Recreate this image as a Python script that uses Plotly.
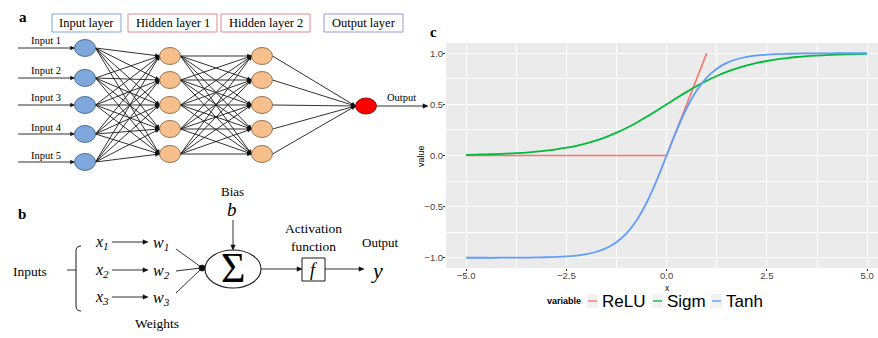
import plotly.graph_objects as go

# ---------------- data (panel c) ----------------
x_relu = [-5.0, 0.0, 1.0]
y_relu = [0.0, 0.0, 1.0]

x_grid = [-5.0, -4.75, -4.5, -4.25, -4.0, -3.75, -3.5, -3.25, -3.0, -2.75, -2.5,
          -2.25, -2.0, -1.75, -1.5, -1.25, -1.0, -0.75, -0.5, -0.25, 0.0,
          0.25, 0.5, 0.75, 1.0, 1.25, 1.5, 1.75, 2.0, 2.25, 2.5,
          2.75, 3.0, 3.25, 3.5, 3.75, 4.0, 4.25, 4.5, 4.75, 5.0]
y_sigm = [0.007, 0.009, 0.011, 0.014, 0.018, 0.023, 0.029, 0.037, 0.047, 0.060, 0.076,
          0.095, 0.119, 0.148, 0.182, 0.223, 0.269, 0.321, 0.378, 0.438, 0.500,
          0.562, 0.622, 0.679, 0.731, 0.777, 0.818, 0.852, 0.881, 0.905, 0.924,
          0.940, 0.953, 0.963, 0.971, 0.977, 0.982, 0.986, 0.989, 0.991, 0.993]
y_tanh = [-1.000, -1.000, -1.000, -1.000, -0.999, -0.999, -0.998, -0.997, -0.995, -0.992, -0.987,
          -0.978, -0.964, -0.941, -0.905, -0.848, -0.762, -0.635, -0.462, -0.245, 0.000,
          0.245, 0.462, 0.635, 0.762, 0.848, 0.905, 0.941, 0.964, 0.978, 0.987,
          0.992, 0.995, 0.997, 0.998, 0.999, 0.999, 1.000, 1.000, 1.000, 1.000]

series_names = ["ReLU", "Sigm", "Tanh"]
series_colors = ["#F8766D", "#00BA38", "#619CFF"]

x_tickvals = [-5.0, -2.5, 0.0, 2.5, 5.0]
x_ticktext = ["\u22125.0", "\u22122.5", "0.0", "2.5", "5.0"]
y_tickvals = [-1.0, -0.5, 0.0, 0.5, 1.0]
y_ticktext = ["\u22121.0", "\u22120.5", "0.0", "0.5", "1.0"]

# ---------------- diagram labels ----------------
layer_titles = ["Input layer", "Hidden layer 1", "Hidden layer 2", "Output layer"]
input_labels = ["Input 1", "Input 2", "Input 3", "Input 4", "Input 5"]

W, H = 878, 338
SERIF = "Liberation Serif"
SANS = "Liberation Sans"


def px(x):
    return x / W


def py(y):
    return 1 - y / H


shapes = []
annos = []


def line(x0, y0, x1, y1, color="#1A1A1A", width=0.9):
    shapes.append(dict(type="line", xref="paper", yref="paper",
                       x0=px(x0), y0=py(y0), x1=px(x1), y1=py(y1),
                       line=dict(color=color, width=width)))


def head(x0, y0, x1, y1, size=5.0, half=2.2, color="#111111"):
    dx, dy = x1 - x0, y1 - y0
    L = (dx * dx + dy * dy) ** 0.5
    ux, uy = dx / L, dy / L
    bx, by = x1 - ux * size, y1 - uy * size
    pxv, pyv = -uy * half, ux * half
    pts = [(x1, y1), (bx + pxv, by + pyv), (bx - pxv, by - pyv)]
    path = "M " + " L ".join(f"{px(a):.5f},{py(b):.5f}" for a, b in pts) + " Z"
    shapes.append(dict(type="path", xref="paper", yref="paper", path=path,
                       fillcolor=color, line=dict(color=color, width=0.5)))


def arrow(x0, y0, x1, y1, width=0.9, size=5.0, half=2.2):
    line(x0, y0, x1 - (x1 - x0) * 0.02, y1 - (y1 - y0) * 0.02, width=width)
    head(x0, y0, x1, y1, size=size, half=half)


def ellipse(cx, cy, rx, ry, fill, border, width=0.8):
    shapes.append(dict(type="circle", xref="paper", yref="paper",
                       x0=px(cx - rx), x1=px(cx + rx), y0=py(cy + ry), y1=py(cy - ry),
                       fillcolor=fill, line=dict(color=border, width=width)))


def rect(x0, y0, x1, y1, border, fill="rgba(0,0,0,0)", width=1.0):
    shapes.append(dict(type="rect", xref="paper", yref="paper",
                       x0=px(x0), x1=px(x1), y0=py(y1), y1=py(y0),
                       fillcolor=fill, line=dict(color=border, width=width)))


def text(x, y, s, size=11, family=SERIF, color="black", xanchor="center",
         yanchor="middle", angle=0):
    annos.append(dict(x=px(x), y=py(y), xref="paper", yref="paper", text=s,
                      showarrow=False, xanchor=xanchor, yanchor=yanchor,
                      font=dict(size=size, family=family, color=color),
                      textangle=angle, borderpad=0))


# ---------------- panel a ----------------
text(23, 17, "<b>a</b>", size=15)
box_x = [(52, 121), (128, 217), (221, 310), (324, 403)]
box_c = ["#7EA6D8", "#D98C8C", "#D98C8C", "#A393CC"]
for (bx0, bx1), bc, t in zip(box_x, box_c, layer_titles):
    rect(bx0, 14, bx1, 32, bc)
    text((bx0 + bx1) / 2, 23.5, t, size=12.5)

in_x, h1_x, h2_x, out_x = 85, 170, 262, 366
in_y = [48, 78, 105, 134, 162]
h_y = [56, 80, 105, 129, 154]
out_y = 106
rx, ry = 10.5, 8.5

for yi in in_y:
    for yj in h_y:
        line(in_x + rx, yi, h1_x - rx, yj)
        head(in_x + rx, yi, h1_x - rx, yj, size=4, half=1.8)
for yi in h_y:
    for yj in h_y:
        line(h1_x + rx, yi, h2_x - rx, yj)
        head(h1_x + rx, yi, h2_x - rx, yj, size=4, half=1.8)
for yi in h_y:
    line(h2_x + rx, yi, out_x - rx, out_y)
    head(h2_x + rx, yi, out_x - rx, out_y, size=4, half=1.8)

for yi, lab in zip(in_y, input_labels):
    arrow(18, yi, in_x - rx, yi, size=4, half=1.8)
    text(46, yi - 7, lab, size=10.5)
    ellipse(in_x, yi, rx, ry, "#7EA7DB", "#34577F")
for yj in h_y:
    ellipse(h1_x, yj, rx, ry, "#F6BF8C", "#7A5A3A")
    ellipse(h2_x, yj, rx, ry, "#F6BF8C", "#7A5A3A")
ellipse(out_x, out_y, 10.5, 8, "#FF0000", "#700000")
arrow(out_x + 10.5, out_y, 428, out_y, size=5, half=2.2)
text(386, 97, "Output", size=10.5, xanchor="left")

# ---------------- panel b ----------------
text(22, 214, "<b>b</b>", size=15)
text(30, 271, "Inputs", size=13.5)
line(67, 270, 76, 270)
shapes.append(dict(type="path", xref="paper", yref="paper",
                   path=(f"M {px(81)},{py(246)} Q {px(76)},{py(246)} {px(76)},{py(251)} "
                         f"L {px(76)},{py(306)} Q {px(76)},{py(311)} {px(81)},{py(311)}"),
                   line=dict(color="#1A1A1A", width=1)))
xs_y = [242, 270, 297]
for i, yy in enumerate(xs_y, start=1):
    text(102, yy, f"<i>x</i><sub><i>{i}</i></sub>", size=16)
    arrow(112, yy, 148, yy, size=5, half=2.2)
    text(161, yy + 1, f"<i>w</i><sub><i>{i}</i></sub>", size=16)
line(176, 249, 201, 267)
line(176, 271, 201, 268)
line(176, 293, 201, 269)
ellipse(202, 268, 3, 3, "#111111", "#111111")
ellipse(233, 269, 28, 19, "white", "#1A1A1A", width=1.1)
text(233, 268, "\u03a3", size=42)
text(232, 191, "Bias", size=13)
text(232, 210, "<i>b</i>", size=19)
arrow(233, 220, 233, 250, size=5, half=2.2)
arrow(261, 269, 302, 269, size=5, half=2.2)
rect(302, 258, 325, 281, "#1A1A1A", width=1)
text(313.5, 270, "<i>f</i>", size=18)
arrow(325, 269, 364, 269, size=5, half=2.2)
text(377, 270, "<i>y</i>", size=22)
text(313, 237, "Activation<br>function", size=13.5)
text(380, 242, "Output", size=13)
text(157, 323, "Weights", size=13.5)

# ---------------- panel c ----------------
text(433, 32, "<b>c</b>", size=15)
text(421, 156, "value", size=9, family=SANS, angle=-90)
text(667, 287.5, "x", size=8.5, family=SANS)

# manual legend
text(564, 301, "<b>variable</b>", size=9, family=SANS)
leg_key_x = [587, 652, 711]
for kx, name, col in zip(leg_key_x, series_names, series_colors):
    rect(kx, 294, kx + 11, 308, "#F2F2F2", fill="#F2F2F2", width=0)
    line(kx + 1, 301, kx + 10, 301, color=col, width=1.4)
    text(kx + 14, 301, name, size=17, family=SANS, xanchor="left")

fig = go.Figure()
fig.add_trace(go.Scatter(x=x_relu, y=y_relu, mode="lines", name=series_names[0],
                         line=dict(color=series_colors[0], width=1.7)))
fig.add_trace(go.Scatter(x=x_grid, y=y_sigm, mode="lines", name=series_names[1],
                         line=dict(color=series_colors[1], width=1.8, shape="spline")))
fig.add_trace(go.Scatter(x=x_grid, y=y_tanh, mode="lines", name=series_names[2],
                         line=dict(color=series_colors[2], width=1.8, shape="spline")))

axis_font = dict(size=9.5, family=SANS, color="#444444")
fig.update_layout(
    width=W, height=H,
    margin=dict(l=0, r=0, t=0, b=0),
    paper_bgcolor="white",
    plot_bgcolor="#EBEBEB",
    showlegend=False,
    shapes=shapes,
    annotations=annos,
    xaxis=dict(domain=[446 / W, 1.0], range=[-5.5, 5.27],
               tickvals=x_tickvals, ticktext=x_ticktext,
               showgrid=True, gridcolor="white", gridwidth=1.1,
               zeroline=False, showline=False,
               ticks="outside", ticklen=2, tickcolor="#333333",
               ticklabelstandoff=-3,
               tickfont=axis_font,
               minor=dict(tickvals=[-3.75, -1.25, 1.25, 3.75], showgrid=True,
                          gridcolor="white", gridwidth=0.5, ticks="")),
    yaxis=dict(domain=[1 - 268 / H, 1 - 43 / H], range=[-1.1, 1.1],
               tickvals=y_tickvals, ticktext=y_ticktext,
               showgrid=True, gridcolor="white", gridwidth=1.1,
               zeroline=False, showline=False,
               ticks="outside", ticklen=2, tickcolor="#333333",
               ticklabelstandoff=-2,
               tickfont=axis_font,
               minor=dict(tickvals=[-0.75, -0.25, 0.25, 0.75], showgrid=True,
                          gridcolor="white", gridwidth=0.5, ticks="")),
)

fig.write_html("out.html",
               config={"displayModeBar": False},
               post_script="document.body.style.margin='0px';"
                           "document.body.style.overflow='hidden';")
